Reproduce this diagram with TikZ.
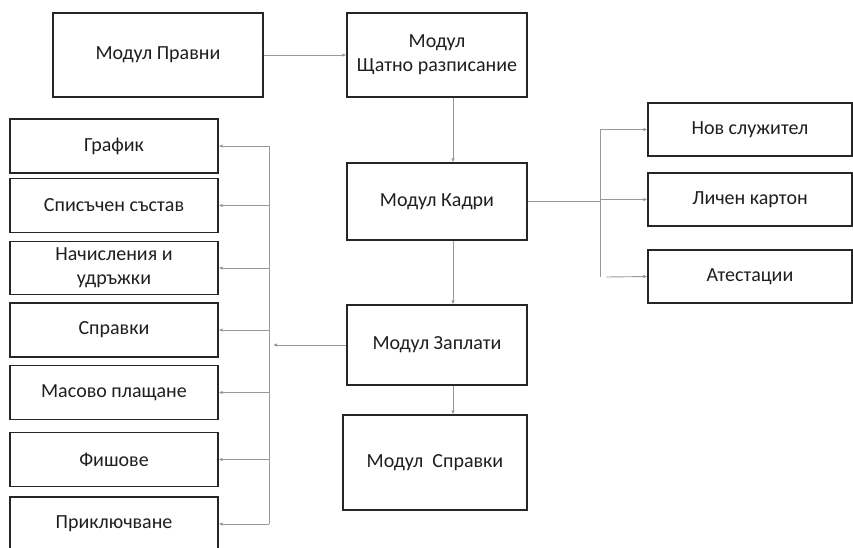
\documentclass[tikz,border=0pt]{standalone}
\usepackage{fontspec}
\setmainfont{Carlito}
\usetikzlibrary{arrows.meta}
\begin{document}
\begin{tikzpicture}[x=1pt,y=-1pt,
  box/.style={draw=black!85,line width=1.2pt,fill=white,inner sep=2pt,align=center,text=black!88,
    font=\fontsize{20}{24}\selectfont},
  conn/.style={draw=black!40,line width=0.9pt},
  arr/.style={conn,-{Latex[length=4pt,width=3.5pt]}}]
\clip (0,0) rectangle (853,547);
\useasboundingbox (0,0) rectangle (853,547);
% top row
\node[box,minimum width=210pt,minimum height=84pt] (pravni) at (158,55) {Модул Правни};
\node[box,minimum width=180pt,minimum height=84pt] (shtat) at (437,55) {Модул\\Щатно разписание};
% centre column
\node[box,minimum width=180pt,minimum height=77pt] (kadri) at (437,201.5) {Модул Кадри};
\node[box,minimum width=180pt,minimum height=80pt] (zapl) at (437,345) {Модул Заплати};
\node[box,minimum width=184pt,minimum height=95pt] (sprm) at (435,462.5) {Модул\ \ Справки};
% left column
\node[box,minimum width=208pt,minimum height=54pt] (grafik) at (114,146) {График};
\node[box,minimum width=208pt,minimum height=54pt] (spis) at (114,205.5) {Списъчен състав};
\node[box,minimum width=208pt,minimum height=53pt] (nach) at (114,268) {Начисления и\\удръжки};
\node[box,minimum width=208pt,minimum height=54pt] (spr) at (114,330) {Справки};
\node[box,minimum width=208pt,minimum height=54pt] (masovo) at (114,392.5) {Масово плащане};
\node[box,minimum width=208pt,minimum height=54pt] (fish) at (114,459.5) {Фишове};
\node[box,minimum width=208pt,minimum height=54pt] (prikl) at (114,524) {Приключване};
% right column
\node[box,minimum width=204pt,minimum height=53pt] (nov) at (750,129.5) {Нов служител};
\node[box,minimum width=204pt,minimum height=53pt] (lich) at (750,199.5) {Личен картон};
\node[box,minimum width=204pt,minimum height=53pt] (atest) at (750,276.5) {Атестации};
% helper coordinates
\coordinate (vx) at (453,0);
\coordinate (lb) at (269,0);
\coordinate (rb) at (600,0);
\coordinate (ztip) at (273,345);
\coordinate (lbtop) at (269,146);
\coordinate (lbbot) at (269,524);
\coordinate (rbtop) at (600,129.5);
\coordinate (rbbot) at (600,277);
\coordinate (atstart) at (606,277);
% connectors
\draw[arr] (pravni.east) -- (shtat.west);
\draw[arr] (shtat.south -| vx) -- (kadri.north -| vx);
\draw[arr] (kadri.south -| vx) -- (zapl.north -| vx);
\draw[arr] (zapl.south -| vx) -- (sprm.north -| vx);
% right fan-out
\draw[conn] (kadri.east) -- (kadri.east -| rb);
\draw[conn] (rbtop) -- (rbbot);
\draw[arr] (rbtop) -- (nov.west);
\draw[arr] (rb |- lich.west) -- (lich.west);
\draw[arr] (atstart) -- (atest.west);
% left fan-out
\draw[arr] (zapl.west) -- (ztip);
\draw[conn] (lbtop) -- (lbbot);
\draw[arr] (lb |- grafik.east) -- (grafik.east);
\draw[arr] (lb |- spis.east) -- (spis.east);
\draw[arr] (lb |- nach.east) -- (nach.east);
\draw[arr] (lb |- spr.east) -- (spr.east);
\draw[arr] (lb |- masovo.east) -- (masovo.east);
\draw[arr] (lb |- fish.east) -- (fish.east);
\draw[arr] (lb |- prikl.east) -- (prikl.east);
\end{tikzpicture}
\end{document}
